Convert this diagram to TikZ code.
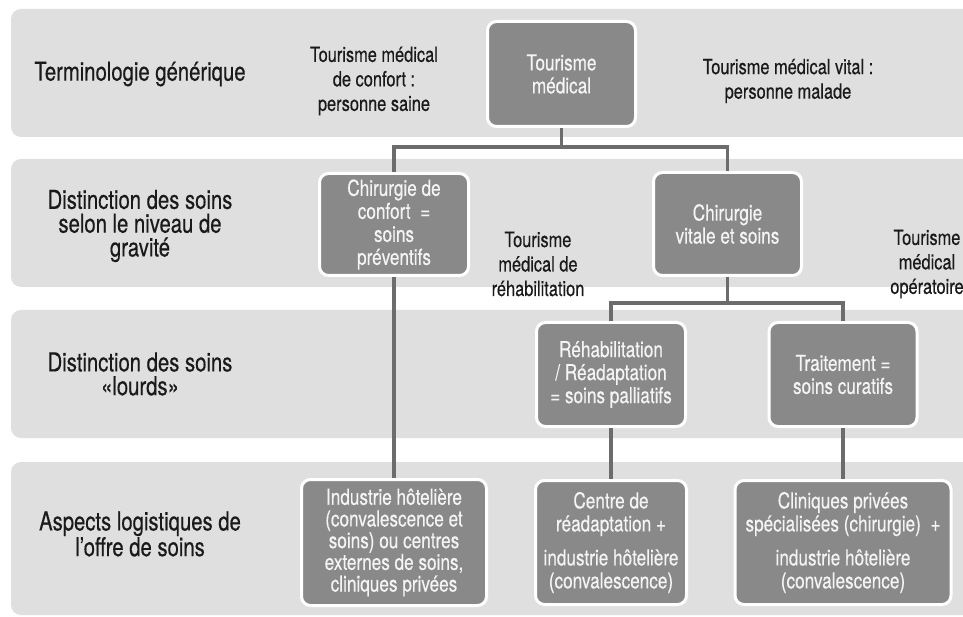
\documentclass[tikz,border=0pt]{standalone}
\usepackage{fontspec}
\setmainfont{TeX Gyre Heros}[FakeStretch=0.78,FakeBold=0.4]
\definecolor{bandgray}{HTML}{DFDFDF}
\definecolor{boxgray}{HTML}{898989}
\definecolor{linegray}{HTML}{6C6C6C}
\definecolor{labelcol}{HTML}{1A1A1A}
\definecolor{boxtext}{HTML}{F4F4F4}
\begin{document}
\begin{tikzpicture}[x=1pt,y=-1pt,
  band/.style={fill=bandgray, rounded corners=10pt, draw=none},
  box/.style={fill=boxgray, draw=white, line width=3pt, rounded corners=9pt,
    inner sep=0pt, text=boxtext, align=center,
    font=\fontsize{22}{23}\selectfont},
  lab/.style={text=labelcol, align=center, inner sep=0pt,
    font=\fontsize{21}{24.5}\selectfont},
  side/.style={text=labelcol, align=center, inner sep=0pt,
    font=\fontsize{26}{23.8}\selectfont},
  conn/.style={draw=linegray, line width=3.4pt}
]
\useasboundingbox (0,0) rectangle (963,617);
\clip (0,0) rectangle (963,617);
% bands
\fill[band] (11,9) rectangle (990,137);
\fill[band] (11,159) rectangle (990,287);
\fill[band] (11,310) rectangle (990,438);
\fill[band] (11,462) rectangle (990,615);

% side labels
\node[side] (s1) at (140,74) {Terminologie générique};
\node[side] (s2) at (140,226) {Distinction des soins\\selon le niveau de\\gravité};
\node[side] (s3) at (140,374) {Distinction des soins\\«lourds»};
\node[side] (s4) at (140,534) {Aspects logistiques de\\l’offre de soins};

% middle labels
\node[lab] (l1) at (374,81) {Tourisme médical\\de confort :\\personne saine};
\node[lab] (l2) at (788,81) {Tourisme médical vital :\\personne malade};
\node[lab] (l3) at (538,264) {Tourisme\\médical de\\réhabilitation};
\node[lab] (l4) at (927,264) {Tourisme\\médical\\opératoire};

% boxes
\node[box, minimum width=148pt, minimum height=105pt] (tm) at (561.5,74) {Tourisme\\médical};
\node[box, minimum width=149pt, minimum height=102pt] (conf) at (394,224.5) {Chirurgie de\\confort \ =\\soins\\préventifs};
\node[box, minimum width=148pt, minimum height=103pt] (vit) at (727.5,224) {Chirurgie\\vitale et soins};
\node[box, minimum width=149pt, minimum height=104pt] (reh) at (611,374.5) {Réhabilitation\\/ Réadaptation\\= soins palliatifs};
\node[box, minimum width=148pt, minimum height=104pt] (trt) at (843,374.5) {Traitement =\\soins curatifs};
\node[box, minimum width=185pt, minimum height=126pt, font=\fontsize{22}{21.7}\selectfont] (ind) at (394,542.5) {Industrie hôtelière\\(convalescence et\\soins) ou centres\\externes de soins,\\cliniques privées};
\node[box, minimum width=151pt, minimum height=124pt] (cen) at (611,542.5) {Centre de\\réadaptation +\\[11pt]industrie hôtelière\\(convalescence)};
\node[box, minimum width=216pt, minimum height=124pt] (cli) at (843,542.5) {Cliniques privées\\spécialisées (chirurgie) \ +\\[11pt]industrie hôtelière\\(convalescence)};

% connectors
\coordinate (j1) at (561.5,147);
\coordinate (j2) at (727.5,303);
\draw[conn] (tm.south) -- (j1);
\draw[conn] (conf.north) |- (j1) -| (vit.north);
\draw[conn] (vit.south) -- (j2);
\draw[conn] (reh.north) |- (j2) -| (trt.north);
\draw[conn] (conf.south) -- (ind.north);
\draw[conn] (reh.south) -- (cen.north);
\draw[conn] (trt.south) -- (cli.north);
\end{tikzpicture}
\end{document}
